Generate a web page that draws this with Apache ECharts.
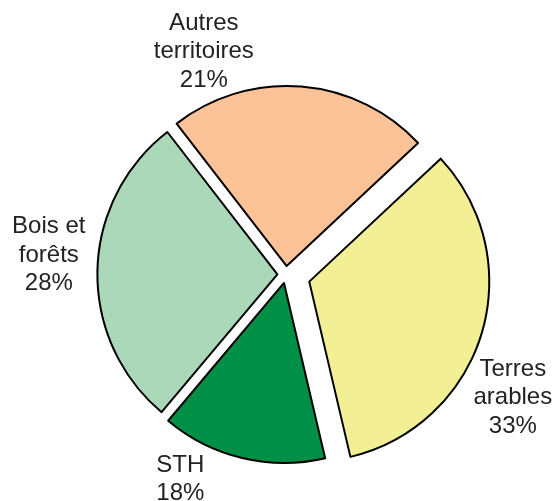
<!DOCTYPE html>
<html>
<head>
<meta charset="utf-8">
<script src="https://cdn.jsdelivr.net/npm/echarts@6/dist/echarts.min.js"></script>
<style>
  html, body { margin: 0; padding: 0; background: #fff; }
  #chart { width: 556px; height: 501px; }
</style>
</head>
<body>
<div id="chart"></div>
<script>
// slices in clockwise order, starting from the upper right
const categories = ["Terres\narables", "STH", "Bois et\nforêts", "Autres\nterritoires"];
// angular shares as drawn (measured off the slices)
const shares = [33.3, 14.8, 28.4, 23.5];
// percentages printed on the labels
const labelPercents = ["33%", "18%", "28%", "21%"];
const colors = ["#f3ef95", "#008f47", "#acd8ba", "#fbc297"];

const CENTER = [286, 274.6];
const RADIUS = 180;
const LABEL_POS = [[512.8, 397.7], [180.3, 479.2], [48.8, 255], [203.8, 51.7]];

function sliceData(visible) {
  return categories.map((name, i) => {
    const on = visible.includes(i);
    return {
      name,
      value: shares[i],
      selected: on,
      itemStyle: on
        ? { color: colors[i], borderColor: "#000", borderWidth: 2 }
        : { opacity: 0, borderWidth: 0 },
    };
  });
}

const basePie = {
  type: "pie",
  center: CENTER,
  radius: RADIUS,
  startAngle: 43.1,
  clockwise: true,
  selectedMode: "multiple",
  silent: true,
  avoidLabelOverlap: false,
  label: { show: false },
  labelLine: { show: false },
  emphasis: { disabled: true },
  select: { itemStyle: { borderColor: "#000", borderWidth: 2 } },
};

const chart = echarts.init(document.getElementById("chart"), null, { renderer: "canvas" });
chart.setOption({
  animation: false,
  backgroundColor: "#fff",
  series: [
    { ...basePie, selectedOffset: 8.6, data: sliceData([1, 2, 3]) },
    { ...basePie, selectedOffset: 24.3, data: sliceData([0]) },
    {
      // label carrier: invisible sectors, labels only
      ...basePie,
      selectedMode: false,
      data: categories.map((name, i) => ({
        name,
        value: shares[i],
        itemStyle: { color: "rgba(0,0,0,0)", borderWidth: 0 },
      })),
      label: {
        show: true,
        position: "outside",
        formatter: (p) => categories[p.dataIndex] + "\n" + labelPercents[p.dataIndex],
        fontFamily: '"Liberation Sans", Arial, sans-serif',
        fontSize: 24,
        lineHeight: 28.5,
        color: "#222",
      },
      labelLayout: (p) => ({
        x: LABEL_POS[p.dataIndex][0],
        y: LABEL_POS[p.dataIndex][1],
        align: "center",
        verticalAlign: "middle",
      }),
    },
  ],
});
</script>
</body>
</html>
